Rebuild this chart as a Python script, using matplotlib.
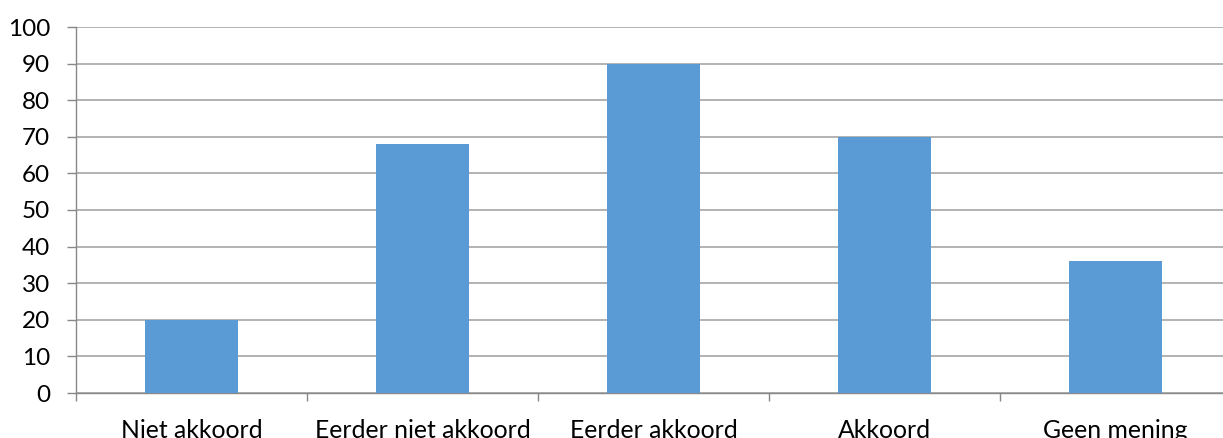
import matplotlib
matplotlib.use("Agg")
import matplotlib.pyplot as plt
import numpy as np

categories = ["Niet akkoord", "Eerder niet akkoord", "Eerder akkoord", "Akkoord", "Geen mening"]
values = [20, 68, 90, 70, 36]
yticks = [0, 10, 20, 30, 40, 50, 60, 70, 80, 90, 100]

plt.rcParams['font.family'] = ['Lato', 'DejaVu Sans']

W, H = 1223, 438
fig = plt.figure(figsize=(W/100, H/100), dpi=100)
left = 76/W
right = (76 + 5*231)/W
bottom = (H-393)/H
top = (H-27)/H
ax = fig.add_axes([left, bottom, right-left, top-bottom])

x = np.arange(len(categories))
ax.bar(x, values, width=0.4, color="#5b9bd5", zorder=3)
ax.set_xlim(-0.5, len(categories)-0.5)
ax.set_ylim(0, 100)
ax.set_yticks(yticks)
ax.set_yticklabels([str(v) for v in yticks], fontsize=17.5, color="black")
ax.set_xticks(x)
ax.set_xticklabels(categories, fontsize=17.8, color="black")
ax.set_xticks(np.arange(len(categories)+1)-0.5, minor=True)
ax.tick_params(axis='x', which='major', length=0, pad=18.5)
ax.tick_params(axis='x', which='minor', length=6, color="#888888", width=1)
ax.tick_params(axis='y', which='major', length=6.5, color="#888888", width=1, pad=12)
ax.grid(axis='y', color="#a6a6a6", linewidth=1.2, zorder=0)
for s in ['top', 'right']:
    ax.spines[s].set_visible(False)
for s in ['left', 'bottom']:
    ax.spines[s].set_color("#888888")
    ax.spines[s].set_linewidth(1)

fig.savefig("out.png", dpi=100)
